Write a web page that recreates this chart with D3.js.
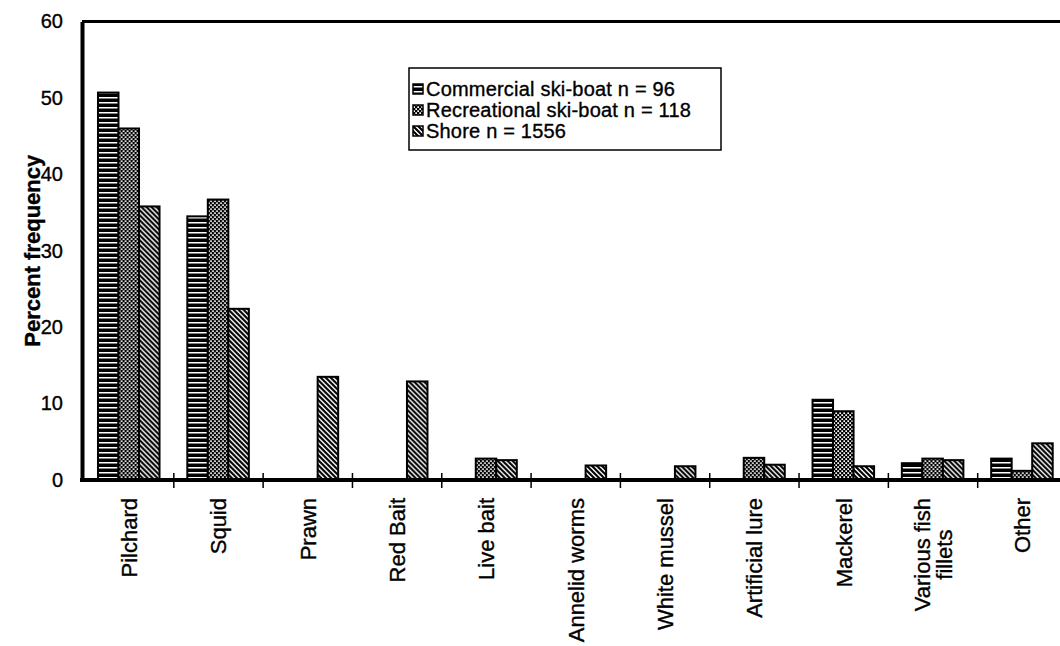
<!DOCTYPE html>
<html>
<head>
<meta charset="utf-8">
<script src="https://cdn.jsdelivr.net/npm/d3@7/dist/d3.min.js"></script>
<style>
  html, body { margin: 0; padding: 0; background: #fff; }
  svg { display: block; font-family: "Liberation Sans", Arial, sans-serif; }
  text { fill: #000; stroke: #000; stroke-width: 0.35px; }
</style>
</head>
<body>
<svg id="chart" width="1060" height="646"></svg>
<script>
const categories = ["Pilchard","Squid","Prawn","Red Bait","Live bait","Annelid worms","White mussel","Artificial lure","Mackerel","Various fish fillets","Other"];
const categoryLabelLines = [["Pilchard"],["Squid"],["Prawn"],["Red Bait"],["Live bait"],["Annelid worms"],["White mussel"],["Artificial lure"],["Mackerel"],["Various fish","fillets"],["Other"]];
const seriesNames = ["Commercial ski-boat n = 96","Recreational ski-boat n = 118","Shore n = 1556"];
const commercial   = [50.7, 34.5, 0,    0,    0,   0,   0,   0,   10.5, 2.2, 2.8];
const recreational = [46.0, 36.7, 0,    0,    2.8, 0,   0,   2.9, 9.0,  2.8, 1.2];
const shore        = [35.8, 22.4, 13.5, 12.9, 2.6, 1.9, 1.8, 2.0, 1.8,  2.6, 4.8];
const yTicks = [0, 10, 20, 30, 40, 50, 60];
const yTitle = "Percent frequency";

const seriesValues = [commercial, recreational, shore];
const patternIds = ["pat-horiz", "pat-cross", "pat-diag"];

const svg = d3.select("#chart");
const plot = { left: 84.5, right: 1067, top: 21.5, bottom: 480 };
const axisX = 82;

// patterns
const defs = svg.append("defs");
{
  const p = defs.append("pattern").attr("id", "pat-horiz").attr("patternUnits", "userSpaceOnUse")
    .attr("width", 6).attr("height", 5);
  p.append("rect").attr("width", 6).attr("height", 5).attr("fill", "#000");
  p.append("rect").attr("x", 0).attr("y", 2).attr("width", 6).attr("height", 1.5).attr("fill", "#fff");
}
{
  const p = defs.append("pattern").attr("id", "pat-cross").attr("patternUnits", "userSpaceOnUse")
    .attr("width", 4).attr("height", 4);
  p.append("rect").attr("width", 4).attr("height", 4).attr("fill", "#000");
  p.append("rect").attr("x", 0.3).attr("y", 0.3).attr("width", 1.7).attr("height", 1.7).attr("fill", "#fff");
  p.append("rect").attr("x", 2.3).attr("y", 2.3).attr("width", 1.7).attr("height", 1.7).attr("fill", "#fff");
}
{
  const p = defs.append("pattern").attr("id", "pat-diag").attr("patternUnits", "userSpaceOnUse")
    .attr("width", 5).attr("height", 5);
  p.append("rect").attr("width", 5).attr("height", 5).attr("fill", "#fff");
  p.append("path").attr("d", "M-1,-1 L6,6 M-1,4 L1,6 M4,-1 L6,1")
    .attr("stroke", "#000").attr("stroke-width", 2.1);
}

const x = d3.scaleBand().domain(categories).range([plot.left, plot.right]).padding(0);
const xInner = d3.scaleBand().domain(d3.range(seriesNames.length))
  .range([x.bandwidth() * 0.151, x.bandwidth() * 0.84]).padding(0);
const y = d3.scaleLinear().domain([0, 60]).range([plot.bottom, plot.top]);

// bars
const groups = svg.append("g").selectAll("g").data(categories).join("g")
  .attr("transform", d => `translate(${x(d)},0)`);
groups.selectAll("rect").data((d, i) => seriesValues.map((s, k) => ({ k, v: s[i] })).filter(e => e.v > 0))
  .join("rect")
  .attr("x", e => xInner(e.k))
  .attr("width", xInner.bandwidth())
  .attr("y", e => y(e.v))
  .attr("height", e => y(0) - y(e.v))
  .attr("fill", e => `url(#${patternIds[e.k]})`)
  .attr("stroke", "#000")
  .attr("stroke-width", 2);

// plot border (top + right)
svg.append("path")
  .attr("d", `M${axisX},${plot.top} L${plot.right},${plot.top} L${plot.right},${plot.bottom}`)
  .attr("fill", "none").attr("stroke", "#000").attr("stroke-width", 3);

// y axis
const yAxis = svg.append("g").attr("transform", `translate(${axisX},0)`)
  .call(d3.axisLeft(y).tickValues(yTicks).tickSize(7).tickPadding(12).tickSizeOuter(0));
yAxis.attr("font-size", null).attr("font-family", null);
yAxis.select(".domain").attr("stroke-width", 4);
yAxis.selectAll(".tick line").attr("stroke-width", 1.5).attr("x2", 2);
yAxis.selectAll(".tick text").attr("font-size", 20).attr("fill", "#000");

// x axis baseline
svg.append("line").attr("x1", axisX - 2).attr("x2", plot.right).attr("y1", y(0)).attr("y2", y(0))
  .attr("stroke", "#000").attr("stroke-width", 4);

// x ticks at band boundaries
const boundaries = categories.map(c => x(c)).concat([x(categories[categories.length - 1]) + x.bandwidth()]).slice(1);
svg.append("g").selectAll("line").data(boundaries).join("line")
  .attr("x1", d => d).attr("x2", d => d)
  .attr("y1", y(0) - 7).attr("y2", y(0) + 8)
  .attr("stroke", "#000").attr("stroke-width", 1.5);

// x labels
const labelTop = 498;
const lineH = 22;
const labG = svg.append("g").selectAll("g").data(categories).join("g")
  .attr("transform", d => `translate(${x(d) + x.bandwidth() / 2},${labelTop}) rotate(-90)`);
labG.each(function (d, i) {
  const g = d3.select(this);
  const lines = categoryLabelLines[i];
  const texts = lines.map((t, j) => g.append("text")
    .attr("font-size", 22)
    .attr("text-anchor", "middle")
    .attr("dy", "0.36em")
    .attr("y", (j - (lines.length - 1) / 2) * lineH)
    .text(t));
  const maxLen = d3.max(texts, t => t.node().getComputedTextLength());
  texts.forEach(t => t.attr("x", -maxLen / 2));
});

// y title
svg.append("text")
  .attr("transform", `translate(32,${(plot.top + plot.bottom) / 2}) rotate(-90)`)
  .attr("text-anchor", "middle").attr("dy", "0.36em")
  .attr("font-size", 22).attr("font-weight", "bold")
  .text(yTitle);

// legend
const legend = svg.append("g");
legend.append("rect").attr("x", 409).attr("y", 68).attr("width", 312).attr("height", 82)
  .attr("fill", "#fff").attr("stroke", "#000").attr("stroke-width", 1.5);
const legRows = legend.selectAll("g.row").data(seriesNames).join("g").attr("class", "row")
  .attr("transform", (d, i) => `translate(413,${89 + i * 21})`);
legRows.append("rect").attr("x", 0).attr("y", -5).attr("width", 10).attr("height", 10)
  .attr("fill", (d, i) => `url(#${patternIds[i]})`).attr("stroke", "#000").attr("stroke-width", 1.5);
legRows.append("text").attr("x", 13).attr("dy", "0.36em").attr("font-size", 20)
  .attr("letter-spacing", 0.2)
  .text(d => d);
</script>
</body>
</html>
